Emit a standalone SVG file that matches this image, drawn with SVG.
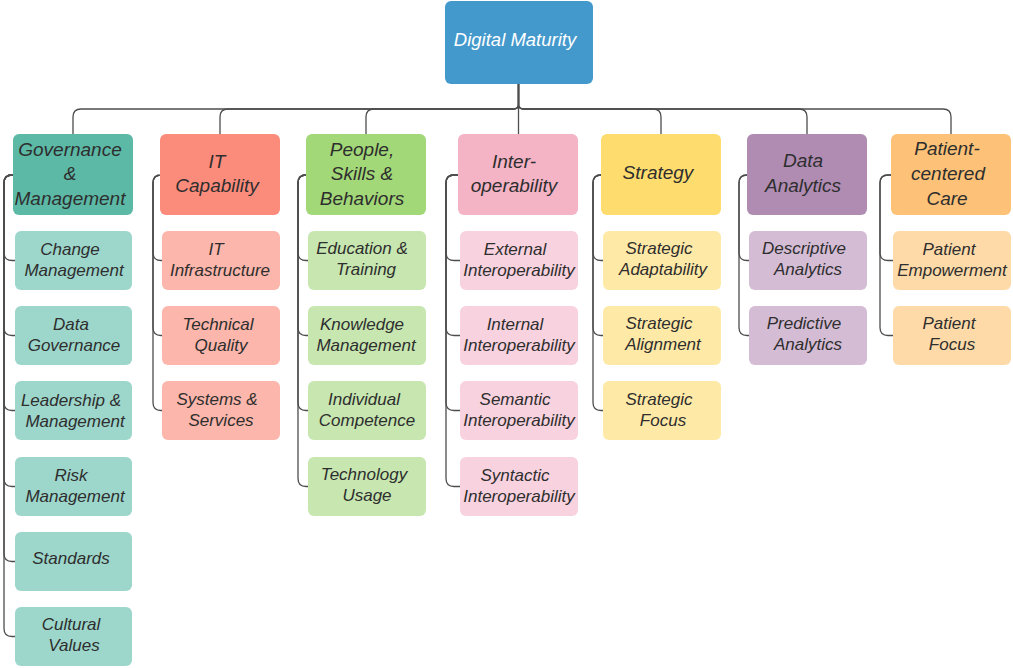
<svg xmlns="http://www.w3.org/2000/svg" width="1013" height="668" viewBox="0 0 1013 668">
<style>
text{font-family:"Liberation Sans",Arial,sans-serif;font-style:italic;fill:#2e2e2e;text-anchor:middle}
.h{font-size:19px}
.s{font-size:17px}
.root{font-size:18.5px;fill:#ffffff}
.c path,.c line{fill:none;stroke:#4d4d4d;stroke-width:1.3}
</style>
<rect width="1013" height="668" fill="#ffffff"/>
<g class="c" id="connectors">
<line x1="518.5" y1="84" x2="518.5" y2="134"/>
<path d="M518.5,84 V104 Q518.5,109 513.5,109 H81 Q73,109 73,117 V134"/>
<path d="M518.5,84 V104 Q518.5,109 513.5,109 H228 Q220,109 220,117 V134"/>
<path d="M518.5,84 V104 Q518.5,109 513.5,109 H374 Q366,109 366,117 V134"/>
<path d="M518.5,84 V104 Q518.5,109 523.5,109 H653 Q661,109 661,117 V134"/>
<path d="M518.5,84 V104 Q518.5,109 523.5,109 H799 Q807,109 807,117 V134"/>
<path d="M518.5,84 V104 Q518.5,109 523.5,109 H943 Q951,109 951,117 V134"/>
<!-- col1 -->
<path d="M13,175 H12 Q4,175 4,183 V252.5 Q4,260.5 12,260.5 H15"/>
<path d="M13,175 H12 Q4,175 4,183 V327.5 Q4,335.5 12,335.5 H15"/>
<path d="M13,175 H12 Q4,175 4,183 V402.5 Q4,410.5 12,410.5 H15"/>
<path d="M13,175 H12 Q4,175 4,183 V478.5 Q4,486.5 12,486.5 H15"/>
<path d="M13,175 H12 Q4,175 4,183 V553.5 Q4,561.5 12,561.5 H15"/>
<path d="M13,175 H12 Q4,175 4,183 V628.5 Q4,636.5 12,636.5 H15"/>
<!-- col2 -->
<path d="M160,175 H161 Q153,175 153,183 V252.5 Q153,260.5 161,260.5 H162"/>
<path d="M160,175 H161 Q153,175 153,183 V327.5 Q153,335.5 161,335.5 H162"/>
<path d="M160,175 H161 Q153,175 153,183 V402.5 Q153,410.5 161,410.5 H162"/>
<!-- col3 -->
<path d="M306,175 H306 Q298,175 298,183 V252.5 Q298,260.5 306,260.5 H308"/>
<path d="M306,175 H306 Q298,175 298,183 V327.5 Q298,335.5 306,335.5 H308"/>
<path d="M306,175 H306 Q298,175 298,183 V402.5 Q298,410.5 306,410.5 H308"/>
<path d="M306,175 H306 Q298,175 298,183 V478.5 Q298,486.5 306,486.5 H308"/>
<!-- col4 -->
<path d="M458,175 H454 Q446,175 446,183 V252.5 Q446,260.5 454,260.5 H460"/>
<path d="M458,175 H454 Q446,175 446,183 V327.5 Q446,335.5 454,335.5 H460"/>
<path d="M458,175 H454 Q446,175 446,183 V402.5 Q446,410.5 454,410.5 H460"/>
<path d="M458,175 H454 Q446,175 446,183 V478.5 Q446,486.5 454,486.5 H460"/>
<!-- col5 -->
<path d="M601,175 H601 Q593,175 593,183 V252.5 Q593,260.5 601,260.5 H603"/>
<path d="M601,175 H601 Q593,175 593,183 V327.5 Q593,335.5 601,335.5 H603"/>
<path d="M601,175 H601 Q593,175 593,183 V402.5 Q593,410.5 601,410.5 H603"/>
<!-- col6 -->
<path d="M747,175 H747 Q739,175 739,183 V252.5 Q739,260.5 747,260.5 H749"/>
<path d="M747,175 H747 Q739,175 739,183 V327.5 Q739,335.5 747,335.5 H749"/>
<!-- col7 -->
<path d="M891,175 H888 Q880,175 880,183 V252.5 Q880,260.5 888,260.5 H893"/>
<path d="M891,175 H888 Q880,175 880,183 V327.5 Q880,335.5 888,335.5 H893"/>
</g>

<g id="root"><rect x="445" y="1" width="148" height="83" rx="6" fill="#4399cb"/><text class="root" x="515" y="46">Digital Maturity</text></g>

<g id="governance"><rect x="13" y="134" width="120" height="81" rx="6" fill="#5cb9a6"/><text class="h"><tspan x="70" y="155.5">Governance</tspan><tspan x="70" y="180">&amp;</tspan><tspan x="70" y="204.5">Management</tspan></text></g>
<g id="change-management"><rect x="15" y="231" width="117" height="59" rx="6" fill="#9dd6cb"/><text class="s"><tspan x="70" y="255">Change</tspan><tspan x="74" y="276">Management</tspan></text></g>
<g id="data-governance"><rect x="15" y="306" width="117" height="59" rx="6" fill="#9dd6cb"/><text class="s"><tspan x="71" y="330">Data</tspan><tspan x="74" y="351">Governance</tspan></text></g>
<g id="leadership"><rect x="15" y="381" width="117" height="59" rx="6" fill="#9dd6cb"/><text class="s"><tspan x="71" y="406">Leadership &amp;</tspan><tspan x="75" y="427">Management</tspan></text></g>
<g id="risk"><rect x="15" y="457" width="117" height="59" rx="6" fill="#9dd6cb"/><text class="s"><tspan x="71" y="481">Risk</tspan><tspan x="75" y="502">Management</tspan></text></g>
<g id="standards"><rect x="15" y="532" width="117" height="59" rx="6" fill="#9dd6cb"/><text class="s"><tspan x="71" y="564">Standards</tspan></text></g>
<g id="cultural"><rect x="15" y="607" width="117" height="59" rx="6" fill="#9dd6cb"/><text class="s"><tspan x="71" y="630">Cultural</tspan><tspan x="74" y="651">Values</tspan></text></g>

<g id="it-capability"><rect x="160" y="134" width="120" height="81" rx="6" fill="#fb8c7c"/><text class="h"><tspan x="217" y="168">IT</tspan><tspan x="217" y="192">Capability</tspan></text></g>
<g id="it-infra"><rect x="162" y="231" width="118" height="59" rx="6" fill="#fcb6ab"/><text class="s"><tspan x="216" y="255">IT</tspan><tspan x="220" y="276">Infrastructure</tspan></text></g>
<g id="technical-quality"><rect x="162" y="306" width="118" height="59" rx="6" fill="#fcb6ab"/><text class="s"><tspan x="218" y="330">Technical</tspan><tspan x="221" y="351">Quality</tspan></text></g>
<g id="systems"><rect x="162" y="381" width="118" height="59" rx="6" fill="#fcb6ab"/><text class="s"><tspan x="217" y="405">Systems &amp;</tspan><tspan x="221" y="426">Services</tspan></text></g>

<g id="people"><rect x="306" y="134" width="120" height="81" rx="6" fill="#a3d878"/><text class="h"><tspan x="362" y="155.5">People,</tspan><tspan x="362" y="180">Skills &amp;</tspan><tspan x="362" y="204.5">Behaviors</tspan></text></g>
<g id="education"><rect x="308" y="231" width="118" height="59" rx="6" fill="#c7e6b0"/><text class="s"><tspan x="362" y="254">Education &amp;</tspan><tspan x="366" y="275">Training</tspan></text></g>
<g id="knowledge"><rect x="308" y="306" width="118" height="59" rx="6" fill="#c7e6b0"/><text class="s"><tspan x="362" y="330">Knowledge</tspan><tspan x="366" y="351">Management</tspan></text></g>
<g id="individual"><rect x="308" y="381" width="118" height="59" rx="6" fill="#c7e6b0"/><text class="s"><tspan x="364" y="405">Individual</tspan><tspan x="367" y="426">Competence</tspan></text></g>
<g id="technology"><rect x="308" y="457" width="118" height="59" rx="6" fill="#c7e6b0"/><text class="s"><tspan x="364" y="480">Technology</tspan><tspan x="367" y="501">Usage</tspan></text></g>

<g id="interoperability"><rect x="458" y="134" width="120" height="81" rx="6" fill="#f4b4c6"/><text class="h"><tspan x="514" y="168">Inter-</tspan><tspan x="514" y="192">operability</tspan></text></g>
<g id="external"><rect x="460" y="231" width="118" height="59" rx="6" fill="#f8d2de"/><text class="s"><tspan x="515" y="255">External</tspan><tspan x="519" y="276">Interoperability</tspan></text></g>
<g id="internal"><rect x="460" y="306" width="118" height="59" rx="6" fill="#f8d2de"/><text class="s"><tspan x="515" y="330">Internal</tspan><tspan x="519" y="351">Interoperability</tspan></text></g>
<g id="semantic"><rect x="460" y="381" width="118" height="59" rx="6" fill="#f8d2de"/><text class="s"><tspan x="515" y="405">Semantic</tspan><tspan x="519" y="426">Interoperability</tspan></text></g>
<g id="syntactic"><rect x="460" y="457" width="118" height="59" rx="6" fill="#f8d2de"/><text class="s"><tspan x="515" y="481">Syntactic</tspan><tspan x="519" y="502">Interoperability</tspan></text></g>

<g id="strategy"><rect x="601" y="134" width="120" height="81" rx="6" fill="#fedc6e"/><text class="h"><tspan x="658" y="178.5">Strategy</tspan></text></g>
<g id="adaptability"><rect x="603" y="231" width="118" height="59" rx="6" fill="#fee9a6"/><text class="s"><tspan x="659" y="254">Strategic</tspan><tspan x="663" y="275">Adaptability</tspan></text></g>
<g id="alignment"><rect x="603" y="306" width="118" height="59" rx="6" fill="#fee9a6"/><text class="s"><tspan x="659" y="329">Strategic</tspan><tspan x="663" y="350">Alignment</tspan></text></g>
<g id="strategic-focus"><rect x="603" y="381" width="118" height="59" rx="6" fill="#fee9a6"/><text class="s"><tspan x="659" y="405">Strategic</tspan><tspan x="663" y="426">Focus</tspan></text></g>

<g id="data-analytics"><rect x="747" y="134" width="120" height="81" rx="6" fill="#b08cb3"/><text class="h"><tspan x="803" y="167">Data</tspan><tspan x="803" y="191.5">Analytics</tspan></text></g>
<g id="descriptive"><rect x="749" y="231" width="118" height="59" rx="6" fill="#d4bcd5"/><text class="s"><tspan x="804" y="254">Descriptive</tspan><tspan x="808" y="275">Analytics</tspan></text></g>
<g id="predictive"><rect x="749" y="306" width="118" height="59" rx="6" fill="#d4bcd5"/><text class="s"><tspan x="804" y="329">Predictive</tspan><tspan x="808" y="350">Analytics</tspan></text></g>

<g id="patient-centered"><rect x="891" y="134" width="120" height="81" rx="6" fill="#fdc277"/><text class="h"><tspan x="947" y="155">Patient-</tspan><tspan x="948" y="180">centered</tspan><tspan x="947" y="204.5">Care</tspan></text></g>
<g id="empowerment"><rect x="893" y="231" width="118" height="59" rx="6" fill="#fddaa8"/><text class="s"><tspan x="949" y="255">Patient</tspan><tspan x="952" y="276">Empowerment</tspan></text></g>
<g id="patient-focus"><rect x="893" y="306" width="118" height="59" rx="6" fill="#fddaa8"/><text class="s"><tspan x="949" y="329">Patient</tspan><tspan x="952" y="350">Focus</tspan></text></g>
</svg>
